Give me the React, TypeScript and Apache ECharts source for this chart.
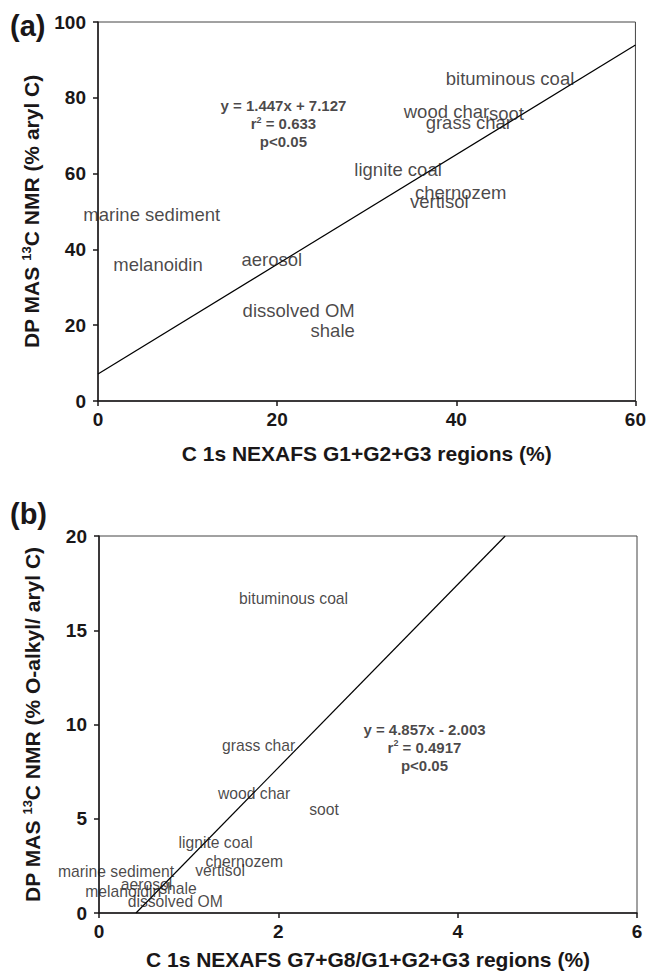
import React, { useEffect, useRef } from "react";
import * as echarts from "echarts";

// ---- Panel (a) data ----
const namesA = ["bituminous coal", "wood char", "soot", "grass char", "lignite coal", "chernozem", "vertisol", "marine sediment", "melanoidin", "aerosol", "dissolved OM", "shale"];
const xA = [46.0, 38.9, 45.6, 41.4, 33.5, 40.5, 38.1, 6.0, 6.7, 19.4, 22.4, 26.2];
const yA = [85.1, 76.3, 75.8, 73.6, 61.2, 55.0, 52.7, 49.2, 36.1, 37.4, 23.9, 18.6];
const slopeA = 1.447;
const interceptA = 7.127;
const r2A = "0.633";
const xTicksA = [0, 20, 40, 60];
const yTicksA = [0, 20, 40, 60, 80, 100];

// ---- Panel (b) data ----
const namesB = ["bituminous coal", "grass char", "wood char", "soot", "lignite coal", "chernozem", "vertisol", "marine sediment", "aerosol", "melanoidin", "shale", "dissolved OM"];
const xB = [2.17, 1.78, 1.73, 2.51, 1.30, 1.62, 1.35, 0.19, 0.53, 0.27, 0.88, 0.85];
const yB = [16.7, 8.87, 6.35, 5.47, 3.76, 2.73, 2.23, 2.2, 1.5, 1.13, 1.28, 0.62];
const slopeB = 4.857;
const interceptB = -2.003;
const r2B = "0.4917";
const xTicksB = [0, 2, 4, 6];
const yTicksB = [0, 5, 10, 15, 20];

const FONT = "'Liberation Sans', Arial, Helvetica, sans-serif";
const INK = "#1a1718";

function fmt(n: number) {
  return n.toFixed(3);
}

export default function App() {
  const ref = useRef<HTMLDivElement>(null);
  useEffect(() => {
    if (!ref.current) return;
    const chart = echarts.init(ref.current, undefined, { renderer: "svg" });

    const axisCommon = (idx: number) => ({
      gridIndex: idx,
      axisLine: { show: true, onZero: false, lineStyle: { color: INK, width: 1.5 } },
      axisTick: { show: true, inside: false, length: 5, lineStyle: { color: INK, width: 1.5 } },
      splitLine: { show: false },
      axisLabel: { color: INK, fontSize: 19, fontWeight: "bold", fontFamily: FONT },
    });

    const yName = (rest: string) => `{t|DP MAS }{s|13}{t|C NMR (${rest})}`;
    const yNameStyle = {
      color: INK,
      rich: {
        t: { fontSize: 21, fontWeight: "bold", fontFamily: FONT, color: INK },
        s: { fontSize: 13, fontWeight: "bold", fontFamily: FONT, color: INK, padding: [0, 0, 10, 0] },
      },
    };
    const xNameStyle = { color: INK, fontSize: 21, fontWeight: "bold", fontFamily: FONT };

    const labelSeries = (idx: number, names: string[], xs: number[], ys: number[], size: number) => ({
      type: "scatter",
      xAxisIndex: idx,
      yAxisIndex: idx,
      symbolSize: 0,
      silent: true,
      data: names.map((n, i) => ({ name: n, value: [xs[i], ys[i]] })),
      label: {
        show: true,
        position: "inside",
        formatter: "{b}",
        color: INK,
        fontSize: size,
        fontFamily: FONT,
      },
      z: 5,
    });

    const eqSeries = (idx: number, x: number, y: number, eq: string, r2: string) => ({
      type: "scatter",
      xAxisIndex: idx,
      yAxisIndex: idx,
      symbolSize: 0,
      silent: true,
      data: [{ value: [x, y] }],
      label: {
        show: true,
        position: "inside",
        align: "center",
        formatter: `{e|${eq}}\n{e|r}{q|2}{e| = ${r2}}\n{e|p<0.05}`,
        rich: {
          e: { fontSize: 15, fontWeight: "bold", fontFamily: FONT, color: INK, lineHeight: 18, align: "center" },
          q: { fontSize: 9, fontWeight: "bold", fontFamily: FONT, color: INK, lineHeight: 18, padding: [0, 0, 8, 0] },
        },
      },
    });

    const lineA = [0, 60].map((x) => [x, slopeA * x + interceptA]);
    const lineB = [0, 20].map((y) => [(y - interceptB) / slopeB, y]);

    const option: any = {
      animation: false,
      backgroundColor: "#ffffff",
      grid: [
        { left: 98, top: 22, width: 539, height: 379, show: true, borderColor: "#444", borderWidth: 1, backgroundColor: "transparent" },
        { left: 99, top: 536, width: 538, height: 377, show: true, borderColor: "#444", borderWidth: 1, backgroundColor: "transparent" },
      ],
      xAxis: [
        {
          ...axisCommon(0),
          type: "value",
          min: xTicksA[0],
          max: xTicksA[xTicksA.length - 1],
          interval: xTicksA[1] - xTicksA[0],
          axisLabel: { ...axisCommon(0).axisLabel, margin: 9 },
          name: "C 1s NEXAFS G1+G2+G3 regions (%)",
          nameLocation: "middle",
          nameGap: 42,
          nameTextStyle: xNameStyle,
        },
        {
          ...axisCommon(1),
          type: "value",
          min: xTicksB[0],
          max: xTicksB[xTicksB.length - 1],
          interval: xTicksB[1] - xTicksB[0],
          axisLabel: { ...axisCommon(1).axisLabel, margin: 9 },
          name: "C 1s NEXAFS G7+G8/G1+G2+G3 regions (%)",
          nameLocation: "middle",
          nameGap: 36,
          nameTextStyle: xNameStyle,
        },
      ],
      yAxis: [
        {
          ...axisCommon(0),
          type: "value",
          min: yTicksA[0],
          max: yTicksA[yTicksA.length - 1],
          interval: yTicksA[1] - yTicksA[0],
          axisLabel: { ...axisCommon(0).axisLabel, margin: 12 },
          name: yName("% aryl C"),
          nameLocation: "middle",
          nameRotate: 90,
          nameGap: 55,
          nameTextStyle: yNameStyle,
        },
        {
          ...axisCommon(1),
          type: "value",
          min: yTicksB[0],
          max: yTicksB[yTicksB.length - 1],
          interval: yTicksB[1] - yTicksB[0],
          axisLabel: { ...axisCommon(1).axisLabel, margin: 12 },
          name: yName("% O-alkyl/ aryl C"),
          nameLocation: "middle",
          nameRotate: 90,
          nameGap: 55,
          nameTextStyle: yNameStyle,
        },
      ],
      graphic: [
        { type: "text", left: 10, top: 11, style: { text: "(a)", fontSize: 29, fontWeight: "bold", fontFamily: FONT, fill: INK } },
        { type: "text", left: 10, top: 499, style: { text: "(b)", fontSize: 29, fontWeight: "bold", fontFamily: FONT, fill: INK } },
      ],
      series: [
        {
          type: "line",
          xAxisIndex: 0,
          yAxisIndex: 0,
          data: lineA,
          symbol: "none",
          lineStyle: { color: "#000", width: 1.2 },
          silent: true,
        },
        {
          type: "line",
          xAxisIndex: 1,
          yAxisIndex: 1,
          data: lineB,
          symbol: "none",
          lineStyle: { color: "#000", width: 1.2 },
          silent: true,
        },
        labelSeries(0, namesA, xA, yA, 18.5),
        labelSeries(1, namesB, xB, yB, 15.7),
        eqSeries(0, 20.7, 73.2, `y = ${slopeA}x + ${fmt(interceptA)}`, r2A),
        eqSeries(1, 3.63, 8.8, `y = ${slopeB}x - ${fmt(Math.abs(interceptB))}`, r2B),
      ],
    };
    chart.setOption(option);
    return () => chart.dispose();
  }, []);

  return <div ref={ref} style={{ position: "absolute", left: 0, top: 0, width: 649, height: 973 }} />;
}
